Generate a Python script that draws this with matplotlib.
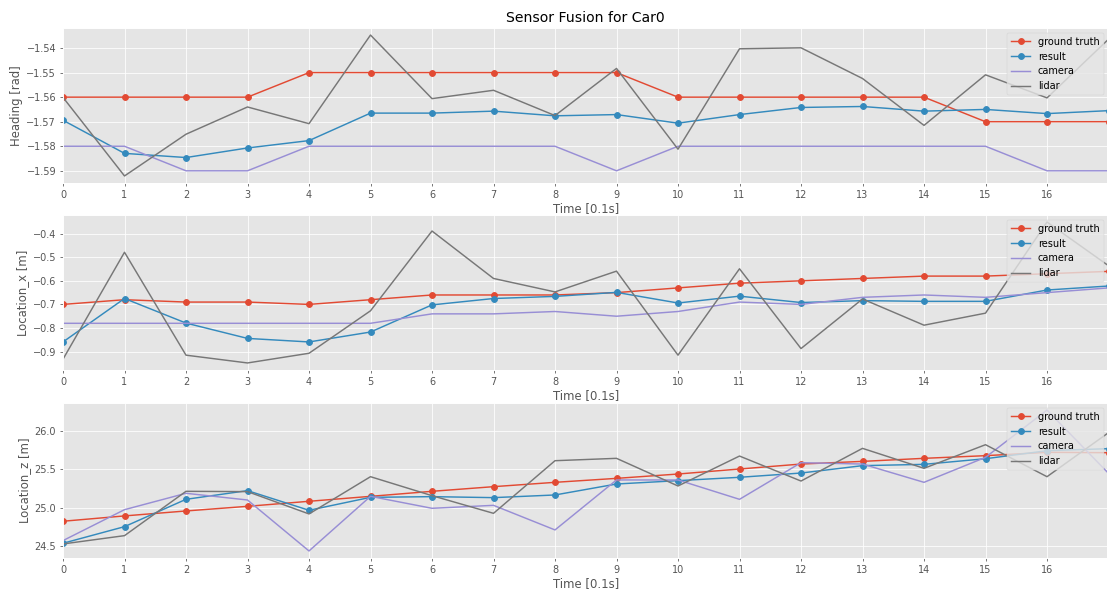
import numpy as np
import matplotlib
matplotlib.use("Agg")
import matplotlib.pyplot as plt
from matplotlib.ticker import MultipleLocator

plt.style.use("ggplot")

time_steps = list(range(18))
xtick_values = list(range(17))

heading_gt = [-1.56, -1.56, -1.56, -1.56, -1.55, -1.55, -1.55, -1.55, -1.55, -1.55,
              -1.56, -1.56, -1.56, -1.56, -1.56, -1.57, -1.57, -1.57]
heading_result = [-1.5694, -1.5829, -1.5846, -1.5807, -1.5777, -1.5665, -1.5665, -1.5657, -1.5676,
                  -1.5671, -1.5706, -1.5671, -1.5642, -1.5638, -1.5657, -1.5650, -1.5667, -1.5655]
heading_camera = [-1.58, -1.58, -1.59, -1.59, -1.58, -1.58, -1.58, -1.58, -1.58, -1.59,
                  -1.58, -1.58, -1.58, -1.58, -1.58, -1.58, -1.59, -1.59]
heading_lidar = [-1.5601, -1.5921, -1.5751, -1.5640, -1.5708, -1.5347, -1.5606, -1.5572, -1.5675,
                 -1.5483, -1.5812, -1.5403, -1.5399, -1.5524, -1.5715, -1.5509, -1.5603, -1.5364]

locx_gt = [-0.70, -0.68, -0.69, -0.69, -0.70, -0.68, -0.66, -0.66, -0.66,
           -0.65, -0.63, -0.61, -0.60, -0.59, -0.58, -0.58, -0.57, -0.56]
locx_result = [-0.859, -0.675, -0.779, -0.844, -0.859, -0.817, -0.702, -0.675, -0.666,
               -0.649, -0.694, -0.665, -0.692, -0.684, -0.687, -0.687, -0.639, -0.622]
locx_camera = [-0.78, -0.78, -0.78, -0.78, -0.78, -0.78, -0.74, -0.74, -0.73,
               -0.75, -0.73, -0.69, -0.70, -0.67, -0.66, -0.67, -0.65, -0.63]
locx_lidar = [-0.932, -0.479, -0.915, -0.948, -0.907, -0.727, -0.389, -0.590, -0.647,
              -0.559, -0.915, -0.549, -0.887, -0.677, -0.788, -0.737, -0.351, -0.536]

locz_gt = [24.82, 24.89, 24.955, 25.016, 25.082, 25.147, 25.213, 25.274, 25.331,
           25.383, 25.440, 25.506, 25.571, 25.606, 25.646, 25.681, 25.725, 25.72]
locz_result = [24.531, 24.749, 25.108, 25.222, 24.964, 25.134, 25.143, 25.130, 25.165,
               25.309, 25.353, 25.397, 25.453, 25.550, 25.567, 25.641, 25.746, 25.773]
locz_camera = [24.566, 24.972, 25.187, 25.099, 24.430, 25.147, 24.990, 25.029, 24.706,
               25.362, 25.362, 25.108, 25.589, 25.571, 25.331, 25.659, 26.28, 25.449]
locz_lidar = [24.522, 24.631, 25.213, 25.209, 24.916, 25.405, 25.156, 24.924, 25.615,
              25.646, 25.283, 25.676, 25.348, 25.777, 25.515, 25.825, 25.405, 25.983]

panels = [
    ("Heading [rad]", heading_gt, heading_result, heading_camera, heading_lidar, 0.01),
    ("Location_x [m]", locx_gt, locx_result, locx_camera, locx_lidar, 0.1),
    ("Location_z [m]", locz_gt, locz_result, locz_camera, locz_lidar, 0.5),
]

W, H = 1107, 595
DPI = 70
fig = plt.figure(figsize=(W / DPI, H / DPI), dpi=DPI)
boxes = [(28, 183), (215, 370), (403, 558)]
left_px, right_px = 63, 1108.5

for (ylabel, gt, res, cam, lid, step), (top, bot) in zip(panels, boxes):
    ax = fig.add_axes([left_px / W, 1 - bot / H, (right_px - left_px) / W, (bot - top) / H])
    ax.plot(time_steps, gt, marker="o", label="ground truth")
    ax.plot(time_steps, res, marker="o", label="result")
    ax.plot(time_steps, cam, label="camera")
    ax.plot(time_steps, lid, label="lidar")
    ax.set_xlim(0, 17)
    ax.set_xticks(xtick_values)
    ax.yaxis.set_major_locator(MultipleLocator(step))
    ax.set_ylabel(ylabel)
    ax.set_xlabel("Time [0.1s]", labelpad=2)
    ax.legend(loc="upper right")
    if top == 28:
        ax.set_title("Sensor Fusion for Car0", color="black")

fig.savefig("out.png", dpi=DPI)
